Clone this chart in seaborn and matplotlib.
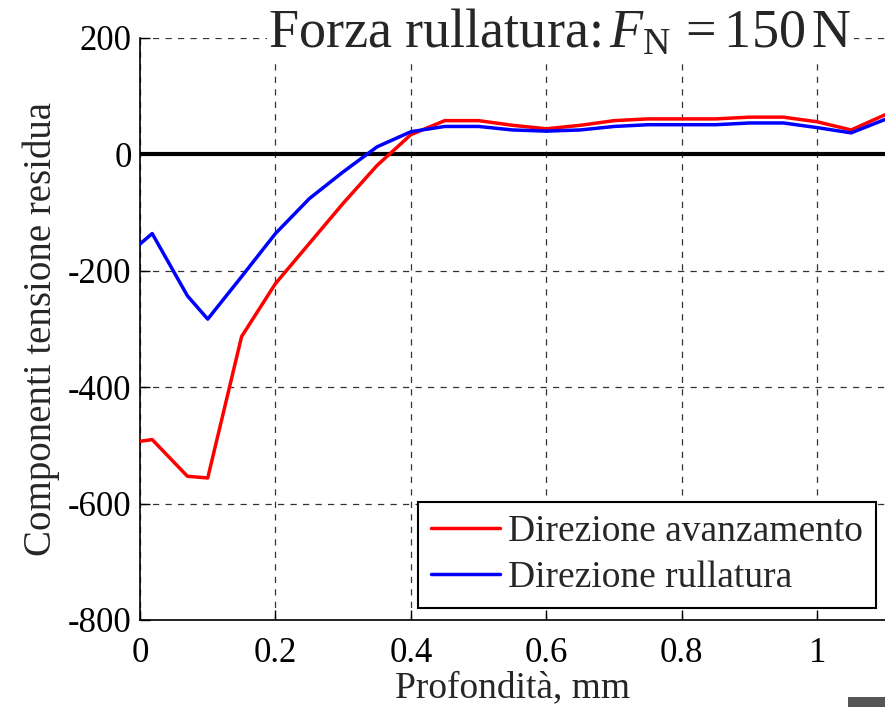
import matplotlib
matplotlib.use("Agg")
import matplotlib.pyplot as plt
import seaborn as sns
import pandas as pd
from matplotlib.patches import Rectangle

depth = [0, 0.018, 0.07, 0.1, 0.15, 0.2, 0.25, 0.3, 0.35, 0.4, 0.45, 0.5, 0.55,
         0.6, 0.65, 0.7, 0.75, 0.8, 0.85, 0.9, 0.95, 1.0, 1.05, 1.1]
avanzamento = [-493, -490, -553, -556, -313, -222, -153, -84, -19, 34, 58, 58, 50,
               44, 50, 58, 61, 61, 61, 64, 64, 56, 42, 68]
rullatura = [-154, -136, -243, -283, -210, -136, -76, -30, 13, 39, 48, 48, 42,
             40, 42, 48, 51, 51, 51, 54, 54, 46, 37, 60]
series_names = ["Direzione avanzamento", "Direzione rullatura"]
xticks = [0, 0.2, 0.4, 0.6, 0.8, 1.0]
xticklabels = ["0", "0.2", "0.4", "0.6", "0.8", "1"]
yticks = [-800, -600, -400, -200, 0, 200]

df = pd.DataFrame({
    "x": depth * 2,
    "y": avanzamento + rullatura,
    "serie": [series_names[0]] * len(depth) + [series_names[1]] * len(depth),
})

sns.set_style("white")
plt.rcParams["font.family"] = ["Liberation Serif", "DejaVu Serif"]
plt.rcParams["mathtext.fontset"] = "custom"
plt.rcParams["mathtext.rm"] = "Liberation Serif"
plt.rcParams["mathtext.it"] = "Liberation Serif:italic"
plt.rcParams["axes.unicode_minus"] = False

fig = plt.figure(figsize=(8.85, 7.07), dpi=100)
ax = fig.add_axes([140 / 885, 1 - 620 / 707, 1 - 140 / 885, (620 - 38) / 707])

sns.lineplot(data=df, x="x", y="y", hue="serie", palette=["#ff0000", "#0000ff"],
             estimator=None, sort=False, linewidth=2.5, ax=ax, zorder=3)

ax.axhline(0, color="black", linewidth=3, zorder=2)
ax.set_xlim(0, 1.1)
ax.set_ylim(-800, 200)
ax.set_xticks(xticks)
ax.set_xticklabels(xticklabels)
ax.set_yticks(yticks)
ax.grid(True, color="black", linestyle=(0, (5, 5)), linewidth=0.9, alpha=0.8)
ax.tick_params(direction="in", length=7, width=1, labelsize=25, colors="black",
               left=True, bottom=True)
ax.tick_params(axis="y", pad=6)
ax.tick_params(axis="x", pad=12)
for s in ["top", "right"]:
    ax.spines[s].set_visible(False)
for s in ["left", "bottom"]:
    ax.spines[s].set_color("black")
    ax.spines[s].set_linewidth(1.2)

ax.set_xlabel("Profondità, mm", fontsize=27, labelpad=1)
ax.set_ylabel("Componenti tensione residua", fontsize=28, labelpad=6)

leg = ax.legend(loc="upper left", bbox_to_anchor=(0.373, 0.203), fontsize=27,
                frameon=True, fancybox=False, edgecolor="black", framealpha=1,
                handlelength=1.85, handletextpad=0.2, borderpad=0.35,
                labelspacing=0.3, borderaxespad=0)
leg.get_frame().set_linewidth(1.5)

fig.text(0.633, 0.952, r"Forza rullatura:$\,F_{\mathrm{N}}\,=150\,$N", fontsize=39,
         ha="center", va="center",
         bbox=dict(facecolor="white", edgecolor="none", pad=1))

fig.patches.append(Rectangle((848 / 885, 0), 37 / 885, 10 / 707, transform=fig.transFigure,
                             facecolor="#555555", edgecolor="none"))

fig.savefig("out.png", dpi=100)
